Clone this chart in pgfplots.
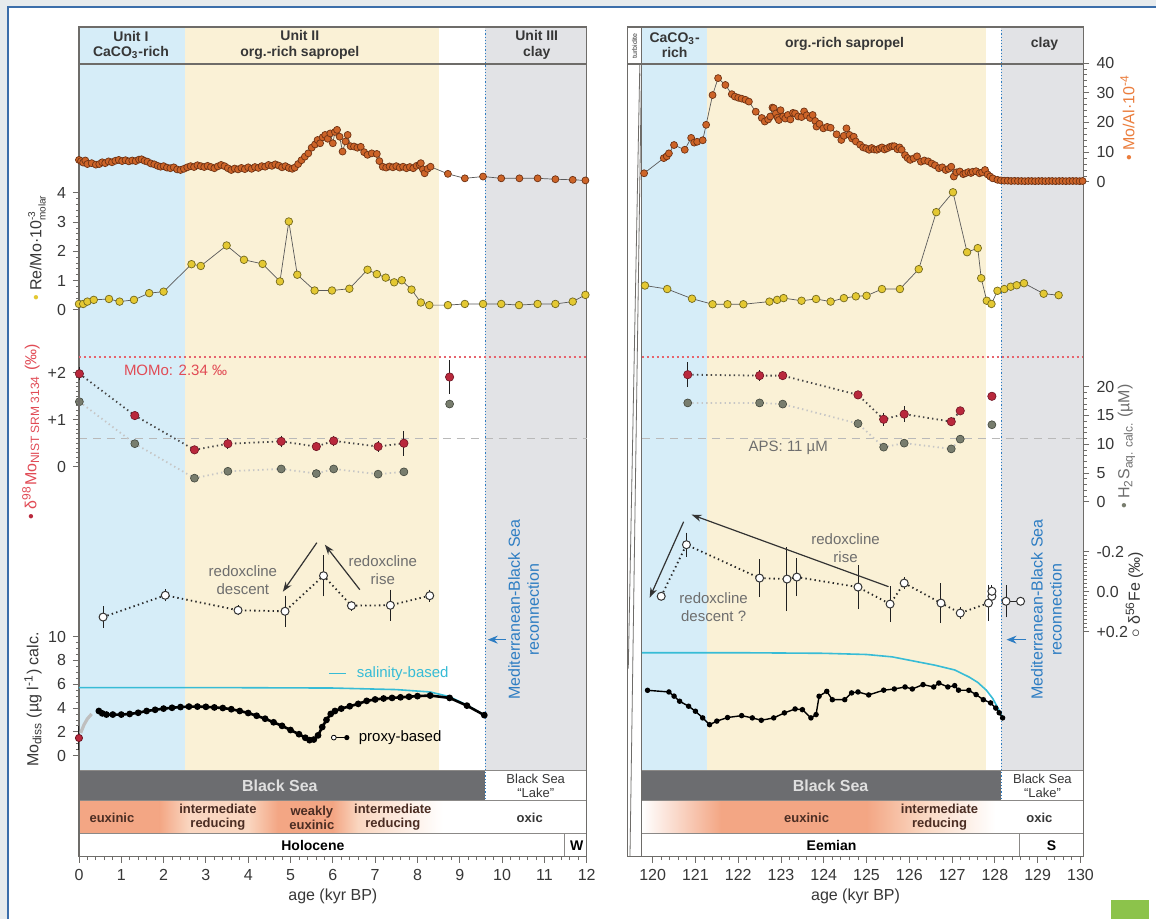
\documentclass[border=0pt]{standalone}
\usepackage{pgfplots}
\pgfplotsset{compat=1.18}
\usepackage{fontspec}
\setmainfont{Liberation Sans}
\usetikzlibrary{arrows.meta}

\definecolor{bgout}{RGB}{231,235,237}
\definecolor{bordblue}{RGB}{60,110,170}
\definecolor{shBlue}{RGB}{214,237,248}
\definecolor{shYel}{RGB}{250,241,214}
\definecolor{shGrey}{RGB}{226,227,230}
\definecolor{framec}{RGB}{110,108,105}
\definecolor{barDark}{RGB}{108,109,112}
\definecolor{orM}{RGB}{205,100,40}
\definecolor{orE}{RGB}{110,50,20}
\definecolor{yeM}{RGB}{228,200,50}
\definecolor{yeE}{RGB}{115,105,30}
\definecolor{reM}{RGB}{185,40,60}
\definecolor{reE}{RGB}{110,20,35}
\definecolor{h2M}{RGB}{120,125,110}
\definecolor{h2E}{RGB}{65,70,60}
\definecolor{orL}{RGB}{235,125,60}
\definecolor{reL}{RGB}{225,75,85}
\definecolor{txG}{RGB}{110,110,110}
\definecolor{txD}{RGB}{55,55,55}
\definecolor{cyc}{RGB}{55,188,214}
\definecolor{blT}{RGB}{45,125,195}
\definecolor{salm}{RGB}{243,166,132}
\definecolor{peach}{RGB}{250,214,192}
\definecolor{grn}{RGB}{140,195,75}
\definecolor{momo}{RGB}{230,100,110}
\definecolor{apsc}{RGB}{185,185,185}
\definecolor{redoxT}{RGB}{75,45,35}

\newcommand{\fL}{\fontsize{8}{9.5}\selectfont}
\newcommand{\fT}{\fontsize{8}{9}\selectfont}
\newcommand{\fH}{\fontsize{7}{7.6}\selectfont\bfseries}
\newcommand{\fB}{\fontsize{6.5}{7}\selectfont\bfseries}
\newcommand{\fA}{\fontsize{7.5}{9}\selectfont}
\newcommand{\fS}{\fontsize{5}{5}\selectfont}

\pgfplotsset{
 baseax/.style={anchor=south west,scale only axis,height=415pt,ymin=62,ymax=892,clip=false,axis on top,
   axis line style={draw=framec,line width=0.6pt},minor x tick num=4,xtick pos=bottom,ytick=\empty,
   tick align=outside,major tick length=3pt,minor tick length=1.8pt,
   tick style={draw=framec,line width=0.4pt},
   xticklabel style={font=\fT,text=txD},
   /pgf/number format/assume math mode=true,/pgf/number format/1000 sep={},
   xlabel={age (kyr BP)},xlabel style={font=\fL,text=txD,yshift=3pt}},
 trkL/.style={at={(39.5pt,#1)},anchor=south west,scale only axis,width=254pt,xmin=0,xmax=12,clip=false},
 trkR/.style={at={(314pt,#1)},anchor=south west,scale only axis,width=228pt,xmin=119.416,xmax=130.07,clip=false},
 yaxcommon/.style={hide x axis,axis line style={draw=framec,-,line width=0.6pt},tick align=outside,
   major tick length=3pt,minor tick length=1.6pt,tick style={draw=framec,line width=0.4pt},
   yticklabel style={font=\fT,text=txD},/pgf/number format/assume math mode=true},
 yL/.style={yaxcommon,axis y line*=left},
 yR/.style={yaxcommon,axis y line*=right},
 pOr/.style={draw=gray!70!black,line width=0.35pt,mark=*,mark size=1.75pt,mark options={fill=orM,draw=orE,line width=0.35pt,solid}},
 pYe/.style={draw=gray!70!black,line width=0.35pt,mark=*,mark size=1.9pt,mark options={fill=yeM,draw=yeE,line width=0.35pt,solid}},
 pRe/.style={draw=gray!55!black,line width=0.9pt,dash pattern=on 0.7pt off 1.6pt,mark=*,mark size=2.1pt,mark options={fill=reM,draw=reE,solid,line width=0.3pt}},
 pH2/.style={draw=gray!45,line width=0.9pt,dash pattern=on 0.7pt off 1.6pt,mark=*,mark size=2pt,mark options={fill=h2M,draw=h2E,solid,line width=0.3pt}},
 pFe/.style={draw=gray!30!black,line width=0.9pt,dash pattern=on 0.7pt off 1.6pt,mark=*,mark size=2pt,mark options={solid,fill=white,draw=black!80,line width=0.5pt}},
 pErr/.style={error bars/.cd,y dir=both,y explicit,error bar style={solid,line width=0.5pt,gray!25!black},error mark options={solid,mark size=2pt,line width=0.5pt,gray!25!black}},
 pMo/.style={black,line width=1.3pt,mark=*,mark size=1pt,mark options={solid,fill=black}},
}

\begin{document}
\begin{tikzpicture}[x=0.5pt,y=0.5pt]
\fill[bgout] (0,0) rectangle (1157,919);
\fill[white] (8,0) rectangle (1157,912);
\draw[bordblue,line width=0.6pt] (8,0) -- (8,912) -- (1157,912);
\fill[grn] (1112,0) rectangle (1150,19);

%================ LEFT BASE =================
\begin{axis}[baseax,at={(39.5pt,31pt)},width=254pt,xmin=0,xmax=12,xtick={0,...,12}]
 \fill[shBlue] (0,148) rectangle (2.5,892);
 \fill[shYel] (2.5,148) rectangle (8.5,892);
 \fill[shGrey] (9.6,148) rectangle (12,892);
 \draw[framec,line width=0.6pt] (0,855) -- (12,855);
 \fill[barDark] (0,118) rectangle (9.6,148);
 \fill[salm] (0,85) rectangle (1.9,118);
 \shade[left color=salm,right color=peach] (1.9,85) rectangle (2.6,118);
 \fill[peach] (2.6,85) rectangle (4.0,118);
 \shade[left color=peach,right color=salm] (4.0,85) rectangle (4.7,118);
 \fill[salm] (4.7,85) rectangle (6.0,118);
 \shade[left color=salm,right color=peach] (6.0,85) rectangle (6.6,118);
 \shade[left color=peach,right color=white] (6.6,85) rectangle (8.6,118);
 \draw[framec!80,line width=0.5pt] (0,148)--(12,148) (0,118)--(12,118) (0,85)--(12,85) (11.48,85)--(11.48,62);
 \draw[blT,densely dotted,line width=0.6pt] (9.6,892) -- (9.6,118);
\end{axis}

%================ RIGHT BASE =================
\begin{axis}[baseax,at={(314pt,31pt)},width=228pt,xmin=119.416,xmax=130.07,xtick={120,...,130}]
 \fill[shBlue] (119.75,148) rectangle (121.26,892);
 \fill[shYel] (121.26,148) rectangle (127.8,892);
 \fill[shGrey] (128.15,148) rectangle (130.07,892);
 \draw[framec,line width=0.6pt] (119.416,855) -- (130.07,855);
 \fill[barDark] (119.75,118) rectangle (128.15,148);
 \shade[left color=white,right color=salm] (119.75,85) rectangle (121.6,118);
 \fill[salm] (121.6,85) rectangle (125.0,118);
 \shade[left color=salm,right color=peach] (125.0,85) rectangle (126.3,118);
 \shade[left color=peach,right color=white] (126.3,85) rectangle (128.0,118);
 \draw[framec!80,line width=0.5pt] (119.75,148)--(130.07,148) (119.75,118)--(130.07,118) (119.75,85)--(130.07,85) (128.57,85)--(128.57,62);
 \draw[framec,line width=0.5pt] (119.75,62)--(119.75,892);
 \draw[framec,line width=0.4pt] (119.74,855)--(119.47,62) (119.70,855)--(119.43,250);
 \draw[blT,densely dotted,line width=0.6pt] (128.15,892) -- (128.15,118);
 \node[rotate=90,font=\fontsize{3.5}{4}\selectfont,text=txD] at (119.58,873) {turbidite};
\end{axis}

%================ LEFT TRACKS =================
% Mo/Al
\begin{axis}[trkL=368.5pt,height=59.5pt,ymin=0,ymax=40,hide axis]
\addplot[pOr] table {
0.00 7.4
0.05 7.0
0.10 6.5
0.15 7.2
0.20 6.0
0.30 6.3
0.40 5.8
0.48 6.0
0.55 6.6
0.62 6.3
0.70 6.9
0.78 6.6
0.86 7.1
0.94 7.4
1.02 7.0
1.10 7.3
1.18 6.9
1.26 7.2
1.34 7.0
1.42 7.5
1.48 7.6
1.55 7.1
1.62 6.8
1.70 6.2
1.78 5.9
1.86 5.4
1.93 5.1
2.00 5.3
2.08 4.8
2.16 4.6
2.24 4.9
2.32 4.2
2.40 4.0
2.48 4.4
2.56 4.9
2.64 5.3
2.72 5.0
2.80 5.6
2.88 5.3
2.96 5.0
3.04 5.4
3.12 5.0
3.20 4.6
3.28 5.2
3.36 5.7
3.44 5.3
3.52 4.6
3.60 4.0
3.68 4.5
3.76 4.2
3.84 4.7
3.92 4.3
4.00 4.9
4.08 4.4
4.16 5.0
4.24 4.7
4.32 5.3
4.40 5.1
4.48 5.7
4.56 5.4
4.64 5.9
4.72 5.5
4.80 4.9
4.88 5.3
4.96 4.7
5.04 4.4
5.10 4.8
5.18 6.0
5.26 7.3
5.34 8.5
5.42 9.6
5.50 11.5
5.58 12.6
5.64 14.1
5.70 13.0
5.76 15.0
5.82 15.8
5.88 14.5
5.94 16.3
6.00 13.0
6.05 16.8
6.10 17.5
6.16 15.2
6.23 10.2
6.30 13.6
6.35 15.8
6.42 12.0
6.50 11.9
6.58 11.5
6.66 11.8
6.74 10.0
6.82 9.1
6.92 9.6
7.04 9.4
7.10 7.0
7.18 5.1
7.26 4.8
7.34 5.2
7.42 4.9
7.50 5.3
7.58 4.8
7.66 5.1
7.74 4.6
7.82 5.0
7.90 4.6
7.98 5.4
8.05 5.8
8.08 6.3
8.13 4.2
8.17 2.9
8.24 4.4
8.31 5.1
8.72 2.7
9.12 1.2
9.55 1.8
9.98 1.2
10.41 1.2
10.84 1.2
11.26 0.9
11.67 0.7
11.97 0.5
};
\end{axis}

% Re/Mo
\begin{axis}[trkL=303.05pt,height=64.35pt,ymin=-0.1,ymax=4.3,yL,ytick={0,...,4},minor y tick num=4]
\addplot[pYe] table {
0.00 0.20
0.10 0.20
0.20 0.28
0.35 0.34
0.71 0.37
0.96 0.28
1.30 0.34
1.66 0.57
2.00 0.62
2.66 1.56
2.88 1.50
3.49 2.20
3.90 1.71
4.34 1.57
4.75 0.97
4.96 3.02
5.16 1.20
5.57 0.66
5.98 0.66
6.39 0.72
6.82 1.37
7.04 1.22
7.25 1.10
7.45 0.94
7.63 1.01
7.86 0.69
8.08 0.25
8.28 0.16
8.72 0.16
9.12 0.20
9.55 0.20
9.98 0.20
10.40 0.16
10.84 0.20
11.26 0.20
11.67 0.28
11.97 0.51
};
\end{axis}

% H2S (left, hidden)
\begin{axis}[trkL=208.5pt,height=57.5pt,ymin=0,ymax=20,hide axis]
\draw[apsc,line width=0.8pt,dash pattern=on 4pt off 3pt] (0,11) -- (12,11);
\addplot[pH2] table {
0.01 17.4
1.32 10.1
2.73 4.1
3.52 5.3
4.78 5.7
5.61 4.9
6.02 5.7
7.07 4.8
7.68 5.2
};
\addplot[pH2,only marks] table {
8.76 17.0
};
\end{axis}

% delta98Mo
\begin{axis}[trkL=217.775pt,height=66.975pt,ymin=-0.35,ymax=2.5,yL,ytick={0,1,2},yticklabels={0,+1,+2},minor y tick num=9]
\draw[momo,line width=0.8pt,dash pattern=on 1pt off 1.5pt] (0,2.34) -- (12,2.34);
\addplot[pRe,pErr] table[x index=0,y index=1,y error index=2] {
0.01 1.98 0.05
1.32 1.09 0
2.73 0.36 0
3.52 0.49 0.03
4.78 0.54 0.04
5.61 0.43 0
6.02 0.55 0.03
7.07 0.43 0.03
7.68 0.50 0.18
};
\addplot[pRe,only marks,pErr] table[x index=0,y index=1,y error index=2] {
8.76 1.91 0.27
};
\end{axis}

% delta56Fe (left, hidden)
\begin{axis}[trkL=143.5pt,height=40pt,ymin=-0.2,ymax=0.2,y dir=reverse,hide axis]
\addplot[pFe,pErr] table[x index=0,y index=1,y error index=2] {
0.57 0.127 0.033
2.04 0.018 0.01
3.76 0.093 0.005
4.87 0.098 0.058
5.78 -0.080 0.083
6.44 0.070 0.005
7.36 0.068 0.058
8.29 0.020 0.01
};
\end{axis}

% Mo diss
\begin{axis}[trkL=79.715pt,height=64.26pt,ymin=-0.3,ymax=10.5,yL,ytick={0,2,...,10},minor y tick num=3]
\addplot[cyc,line width=0.8pt] table {
0.00 5.72
3.00 5.72
6.00 5.68
7.50 5.55
8.30 5.35
8.76 4.95
9.17 4.25
9.58 3.40
};
\addplot[pMo] table {
0.47 3.75
0.55 3.55
0.65 3.45
0.80 3.45
1.00 3.45
1.20 3.50
1.40 3.60
1.60 3.75
1.80 3.85
2.00 3.95
2.20 4.02
2.40 4.08
2.60 4.12
2.80 4.12
3.00 4.10
3.20 4.05
3.40 4.00
3.60 3.90
3.80 3.75
4.00 3.58
4.20 3.35
4.40 3.10
4.60 2.80
4.80 2.50
5.00 2.15
5.20 1.80
5.35 1.50
5.45 1.30
5.55 1.35
5.65 1.70
5.75 2.40
5.85 3.00
5.95 3.50
6.05 3.75
6.20 3.95
6.40 4.15
6.60 4.35
6.80 4.60
7.00 4.72
7.20 4.80
7.40 4.85
7.60 4.90
7.80 4.95
8.00 5.00
8.30 5.05
8.76 4.85
9.17 4.20
9.58 3.40
};
\addplot[gray!50,line width=1.6pt] table {
0.04 1.9
0.12 2.6
0.20 3.1
0.30 3.5
};
\addplot[only marks,mark=*,mark size=1.8pt,mark options={fill=reM,draw=reE},pErr,error bar style={red!80!black}] table[x index=0,y index=1,y error index=2] {
0.00 1.48 0.67
};
\end{axis}

%================ RIGHT TRACKS =================
% Mo/Al
\begin{axis}[trkR=368.5pt,height=59.5pt,ymin=0,ymax=40,yR,ytick={0,10,...,40},minor y tick num=4]
\addplot[pOr] table {
119.80 2.9
120.26 8.0
120.33 8.6
120.38 9.6
120.50 12.4
120.75 10.8
120.90 14.8
120.97 13.2
121.04 13.5
121.17 14.0
121.25 19.2
121.40 29.2
121.53 34.9
121.70 32.6
121.85 29.5
121.92 28.7
122.00 28.3
122.08 28.0
122.17 27.6
122.25 27.0
122.41 23.6
122.55 21.5
122.62 20.3
122.70 21.0
122.75 22.0
122.80 25.0
122.83 24.8
122.88 23.0
122.92 21.6
122.95 20.8
122.99 24.1
123.05 22.0
123.10 21.3
123.16 22.5
123.22 21.0
123.28 23.2
123.33 23.0
123.40 22.0
123.48 21.8
123.54 23.7
123.60 22.4
123.68 21.5
123.74 22.5
123.80 20.5
123.83 18.6
123.90 19.5
123.99 18.0
124.08 18.5
124.16 18.2
124.30 16.0
124.41 14.1
124.47 15.5
124.53 18.0
124.60 15.8
124.66 14.6
124.70 15.2
124.75 13.6
124.85 12.5
124.92 11.6
124.99 11.3
125.06 10.8
125.12 11.4
125.18 10.9
125.24 10.8
125.30 11.2
125.36 11.6
125.42 10.9
125.48 11.3
125.55 11.8
125.60 12.0
125.65 12.0
125.72 11.0
125.77 11.6
125.82 10.8
125.90 9.0
125.96 8.0
126.02 7.4
126.10 7.9
126.18 8.6
126.27 6.8
126.35 7.2
126.44 6.9
126.52 6.2
126.60 5.6
126.69 4.6
126.77 4.9
126.85 4.0
126.92 4.4
126.98 5.1
127.04 1.8
127.10 3.2
127.18 3.5
127.26 2.6
127.31 2.9
127.38 3.3
127.44 3.0
127.48 3.4
127.56 3.6
127.64 2.9
127.70 3.2
127.77 4.0
127.83 2.5
127.89 1.8
127.95 1.2
128.06 0.7
128.14 0.5
128.22 0.4
128.30 0.4
128.38 0.3
128.46 0.35
128.54 0.3
128.62 0.3
128.70 0.25
128.78 0.3
128.86 0.3
128.94 0.25
129.02 0.3
129.10 0.3
129.18 0.25
129.26 0.3
129.34 0.3
129.42 0.25
129.50 0.3
129.58 0.3
129.66 0.25
129.74 0.3
129.82 0.3
129.90 0.3
129.98 0.25
130.05 0.3
};
\end{axis}

% Re/Mo right
\begin{axis}[trkR=303.05pt,height=64.35pt,ymin=-0.1,ymax=4.3,hide axis]
\addplot[pYe] table {
119.82 0.83
120.34 0.71
120.92 0.38
121.40 0.19
121.75 0.19
122.12 0.19
122.73 0.28
122.91 0.34
123.06 0.40
123.48 0.31
123.82 0.37
124.16 0.28
124.47 0.40
124.75 0.46
125.00 0.48
125.36 0.71
125.78 0.71
126.22 1.39
126.63 3.34
127.02 4.02
127.35 1.97
127.60 2.11
127.68 1.08
127.81 0.31
127.92 0.20
128.06 0.65
128.22 0.71
128.37 0.79
128.51 0.84
128.68 0.91
129.14 0.55
129.49 0.50
};
\end{axis}

% H2S right
\begin{axis}[trkR=207.05pt,height=61.8pt,ymin=-0.5,ymax=21,yR,ytick={0,5,...,20},minor y tick num=4]
\draw[apsc,line width=0.8pt,dash pattern=on 4pt off 3pt] (119.75,11) -- (130.07,11);
\addplot[pH2] table {
120.82 17.2
122.50 17.2
123.04 17.0
124.80 13.6
125.40 9.5
125.88 10.2
126.98 9.2
127.19 10.9
};
\addplot[pH2,only marks] table {
127.93 13.4
};
\end{axis}

% delta98Mo right
\begin{axis}[trkR=217.775pt,height=66.975pt,ymin=-0.35,ymax=2.5,hide axis]
\draw[momo,line width=0.8pt,dash pattern=on 1pt off 1.5pt] (119.75,2.34) -- (130.07,2.34);
\addplot[pRe,pErr] table[x index=0,y index=1,y error index=2] {
120.82 1.96 0.18
122.50 1.94 0.03
123.04 1.94 0
124.80 1.53 0
125.40 1.01 0.05
125.88 1.12 0.08
126.98 0.96 0
127.19 1.19 0
};
\addplot[pRe,only marks] table {
127.93 1.50
};
\end{axis}

% delta56Fe right
\begin{axis}[trkR=135.5pt,height=58pt,ymin=-0.3,ymax=0.28,y dir=reverse,yR,ytick={-0.2,0,0.2},yticklabels={-0.2,0.0,+0.2},minor y tick num=9]
\addplot[pFe,pErr] table[x index=0,y index=1,y error index=2] {
120.20 0.023 0
120.79 -0.235 0.04
122.50 -0.068 0.075
123.14 -0.063 0.14
123.37 -0.073 0.075
124.80 -0.023 0.09
125.55 0.062 0.07
125.88 -0.043 0.01
126.74 0.057 0.08
127.19 0.107 0.01
127.85 0.057 0.07
127.93 0.023 0.01
127.93 -0.002 0.01
};
\addplot[pFe,solid,line width=0.5pt,pErr] table[x index=0,y index=1,y error index=2] {
128.26 0.048 0.06
128.60 0.048 0
};
\end{axis}

% Mo diss right
\begin{axis}[trkR=79.715pt,height=64.26pt,ymin=-0.3,ymax=10.5,hide axis]
\addplot[cyc,line width=0.8pt] table {
119.75 8.65
122.00 8.65
124.00 8.60
125.00 8.50
125.60 8.30
126.10 7.95
126.60 7.60
127.06 7.20
127.40 6.60
127.60 6.15
127.80 5.50
127.95 4.80
128.10 3.80
128.18 3.20
};
\addplot[pMo,line width=0.7pt] table {
119.88 5.49
120.38 5.35
120.50 5.00
120.63 4.57
120.84 4.15
121.00 3.73
121.17 3.17
121.33 2.60
121.50 2.90
121.75 3.20
122.08 3.36
122.33 3.17
122.54 2.97
122.83 3.17
123.08 3.59
123.33 3.92
123.50 3.86
123.70 3.17
123.82 3.45
123.89 4.99
124.07 5.40
124.20 4.70
124.49 4.70
124.65 5.27
124.80 5.35
125.05 5.10
125.40 5.50
125.65 5.60
125.90 5.77
126.07 5.60
126.32 5.97
126.57 5.77
126.69 6.10
126.90 5.77
127.06 5.88
127.15 5.50
127.39 5.49
127.56 5.13
127.73 4.70
127.90 4.43
128.02 4.00
128.10 3.60
128.18 3.17
};
\end{axis}

%================ TEXT =================
\node[rotate=90,font=\fL,text=txD] at (37,671) {{\color{yeM}\textbullet}\ Re/Mo·$\mbox{10}^{\mbox{\fS -3}}_{\mbox{\fS molar}}$};
\node[rotate=90,font=\fL,text=reL] at (31,487) {{\color{reM}\textbullet}\ δ\textsuperscript{98}Mo\textsubscript{NIST SRM 3134} (‰)};
\node[rotate=90,font=\fL,text=txD] at (33,219) {Mo\textsubscript{diss} (µg l\textsuperscript{-1}) calc.};
\node[rotate=90,font=\fL,text=orL] at (1128,801) {\textbullet\ Mo/Al·10\textsuperscript{-4}};
\node[rotate=90,font=\fL,text=txG] at (1127,472) {{\color{h2M}\textbullet}\ H\textsubscript{2}S\textsubscript{aq. calc.} (µM)};
\node[rotate=90,font=\fL,text=txD] at (1135,324) {$\circ$ δ\textsuperscript{56}Fe (‰)};

\node[font=\fH,text=txD,align=center] at (131,874) {Unit I\\CaCO\textsubscript{3}-rich};
\node[font=\fH,text=txD,align=center] at (300,874) {Unit II\\org.-rich sapropel};
\node[font=\fH,text=txD,align=center] at (537,874) {Unit III\\clay};
\node[font=\fH,text=txD,align=center] at (675,874) {CaCO\textsubscript{3}-\\rich};
\node[font=\fH,text=txD] at (845,875) {org.-rich sapropel};
\node[font=\fH,text=txD] at (1045,875) {clay};

\node[font=\fA,text=reL,anchor=west] at (117,548) {MOMo: 2.34 ‰};
\node[font=\fA,text=txG,anchor=west] at (742,471) {APS: 11 µM};
\node[font=\fA,text=txG,align=center] at (243,339) {redoxcline\\descent};
\node[font=\fA,text=txG,align=center] at (383,349) {redoxcline\\rise};
\draw[gray!40!black,line width=0.6pt,-{Stealth[length=5pt,width=3.5pt]}] (317,376) -- (283,327);
\draw[gray!40!black,line width=0.6pt,-{Stealth[length=5pt,width=3.5pt]}] (360,329) -- (325,374);
\node[font=\fA,text=txG,align=center] at (846,371) {redoxcline\\rise};
\draw[gray!40!black,line width=0.6pt,-{Stealth[length=5pt,width=3.5pt]}] (889,332) -- (692,404);
\node[font=\fA,text=txG,align=center] at (714,312) {redoxcline\\descent ?};
\draw[gray!40!black,line width=0.6pt,-{Stealth[length=5pt,width=3.5pt]}] (684,397) -- (650,321);

\draw[cyc,line width=0.8pt] (329,245) -- (346,245);
\node[font=\fA,text=cyc,anchor=west] at (350,245) {salinity-based};
\draw[black,line width=0.6pt] (334,181) -- (347,181);
\draw[black,fill=white,line width=0.4pt] (334,181) circle (1.2pt);
\fill[black] (347,181) circle (1.3pt);
\node[font=\fA,text=black,anchor=west] at (352,181) {proxy-based};

\node[rotate=90,font=\fL,text=blT,align=center] at (524,309) {Mediterranean-Black Sea\\reconnection};
\node[rotate=90,font=\fL,text=blT,align=center] at (1047,309) {Mediterranean-Black Sea\\reconnection};
\draw[blT,line width=0.7pt,-{Stealth[length=5pt,width=4pt]}] (506,279) -- (488,279);
\draw[blT,line width=0.7pt,-{Stealth[length=5pt,width=4pt]}] (1027,279) -- (1007,279);

\node[font=\fontsize{8}{9}\selectfont\bfseries,text=gray!25] at (280,133) {Black Sea};
\node[font=\fontsize{6.5}{7.2}\selectfont,text=txD,align=center] at (536,133) {Black Sea\\``Lake''};
\node[font=\fontsize{8}{9}\selectfont\bfseries,text=gray!25] at (831,133) {Black Sea};
\node[font=\fontsize{6.5}{7.2}\selectfont,text=txD,align=center] at (1043,133) {Black Sea\\``Lake''};
\node[font=\fB,text=redoxT] at (112,101) {euxinic};
\node[font=\fB,text=redoxT,align=center] at (218,101) {intermediate\\reducing};
\node[font=\fB,text=redoxT,align=center] at (312,101) {weakly\\euxinic};
\node[font=\fB,text=redoxT,align=center] at (393,101) {intermediate\\reducing};
\node[font=\fB,text=txD] at (530,101) {oxic};
\node[font=\fB,text=redoxT] at (807,101) {euxinic};
\node[font=\fB,text=redoxT,align=center] at (940,101) {intermediate\\reducing};
\node[font=\fB,text=txD] at (1040,101) {oxic};
\node[font=\fontsize{7}{8}\selectfont\bfseries,text=black] at (313,73) {Holocene};
\node[font=\fontsize{7}{8}\selectfont\bfseries,text=black] at (577,73) {W};
\node[font=\fontsize{7}{8}\selectfont\bfseries,text=black] at (832,73) {Eemian};
\node[font=\fontsize{7}{8}\selectfont\bfseries,text=black] at (1052,73) {S};
\end{tikzpicture}
\end{document}
